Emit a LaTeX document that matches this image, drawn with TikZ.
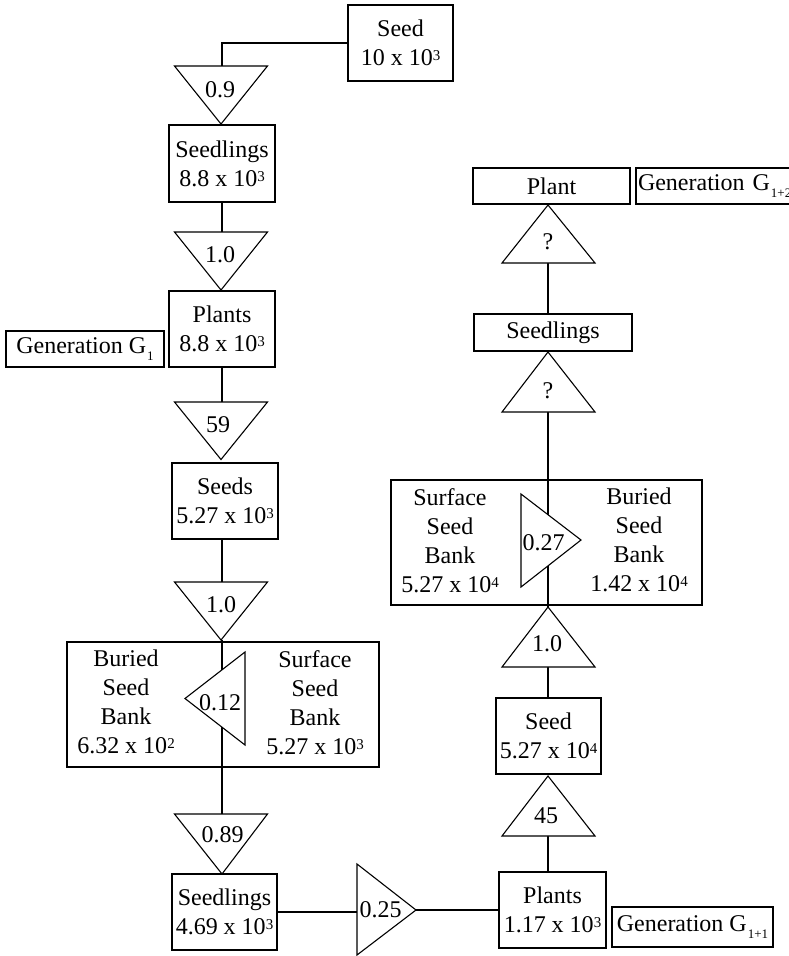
\documentclass[tikz,border=0pt]{standalone}
\usepackage{fontspec}
\setmainfont{Liberation Serif}
\newcommand{\sups}[1]{\raisebox{5pt}{\fontsize{15}{15}\selectfont #1}}
\newcommand{\subs}[1]{\kern1pt\raisebox{-6.5pt}{\fontsize{13}{13}\selectfont #1}}
\begin{document}
\begin{tikzpicture}[x=1pt,y=-1pt,line width=1.1pt,
  font=\fontsize{24}{29}\selectfont,
  box/.style={draw, inner sep=0pt, align=center},
  txt/.style={inner sep=0pt, align=center},
  lbl/.style={inner sep=0pt, anchor=base},
  tri/.style={draw, fill=white, line join=miter}]
\useasboundingbox (0,0) rectangle (789,956);
\clip (0,0) rectangle (789,956);

% boxes
\node[box,minimum width=105pt,minimum height=76pt] (seed) at (400.5,43) {Seed\\10 x 10\sups{3}};
\node[box,minimum width=106pt,minimum height=77pt] (sdl1) at (222,163.5) {Seedlings\\8.8 x 10\sups{3}};
\node[box,minimum width=106pt,minimum height=76pt] (pl1) at (222,329) {Plants\\8.8 x 10\sups{3}};
\node[box,minimum width=158pt,minimum height=36pt] (gen1) at (85,349) {Generation G\subs{1}};
\node[box,minimum width=106pt,minimum height=76pt] (seeds) at (225,501) {Seeds\\5.27 x 10\sups{3}};
\node[box,minimum width=312pt,minimum height=125pt] (bankL) at (223,704.5) {};
\node[box,minimum width=105pt,minimum height=76pt] (sdl2) at (224.5,912) {Seedlings\\4.69 x 10\sups{3}};
\node[box,minimum width=107pt,minimum height=76pt] (plR) at (552.5,910) {Plants\\1.17 x 10\sups{3}};
\node[box,minimum width=161pt,minimum height=40pt] (gen11) at (692.5,927) {Generation G\subs{1+1}};
\node[box,minimum width=105pt,minimum height=76pt] (seedR) at (548.5,736) {Seed\\5.27 x 10\sups{4}};
\node[box,minimum width=311pt,minimum height=125pt] (bankR) at (546.5,542.5) {};
\node[box,minimum width=158pt,minimum height=37pt] (sdlR) at (553,332.5) {Seedlings};
\node[box,minimum width=157pt,minimum height=36pt] (plant) at (551.5,186) {Plant};
\node[box,minimum width=170pt,minimum height=36pt,text width=166pt,align=left] (gen12) at (721,186) {Generation G\subs{1+2}};

% seed bank texts
\node[txt] (bLl) at (126,702.3) {Buried\\Seed\\Bank\\6.32 x 10\sups{2}};
\node[txt] (bLr) at (315,702.3) {Surface\\Seed\\Bank\\5.27 x 10\sups{3}};
\node[txt] (bRl) at (450,540.3) {Surface\\Seed\\Bank\\5.27 x 10\sups{4}};
\node[txt] (bRr) at (639,540.3) {Buried\\Seed\\Bank\\1.42 x 10\sups{4}};

% connector points on triangles
\coordinate (t1in) at (222,66);
\coordinate (t2in) at (222,232);
\coordinate (t3in) at (222,402);
\coordinate (t4in) at (222,582);
\coordinate (t4ap) at (222,640);
\coordinate (t6in) at (222,814);
\coordinate (t25in) at (357,912);
\coordinate (t25ap) at (416,910);
\coordinate (t45in) at (548,836);
\coordinate (t10in) at (548,667);
\coordinate (t10ap) at (548,607);
\coordinate (tq2in) at (548,412);
\coordinate (tq1in) at (548,263);

% connectors
\draw (seed.west) -| (t1in);
\draw (t2in |- sdl1.south) -- (t2in);
\draw (t3in |- pl1.south) -- (t3in);
\draw (t4in |- seeds.south) -- (t4in);
\draw (t4ap) -- (t6in);
\draw (sdl2.east |- t25in) -- (t25in);
\draw (t25ap) -- (plR.west |- t25ap);
\draw (t45in |- plR.north) -- (t45in);
\draw (t10in |- seedR.north) -- (t10in);
\draw (t10ap) -- (tq2in);
\draw (tq1in |- sdlR.north) -- (tq1in);

% triangles
\path[tri] (174.5,66) -- (267.5,66) -- (221,124) -- cycle;
\path[tri] (174.5,232) -- (267.5,232) -- (221,290) -- cycle;
\path[tri] (174.5,402) -- (267.5,402) -- (221,459.5) -- cycle;
\path[tri] (174.5,582) -- (267.5,582) -- (221,640) -- cycle;
\path[tri] (245,652) -- (245,745) -- (185,698.5) -- cycle;
\path[tri] (174.5,814) -- (267.5,814) -- (222,874) -- cycle;
\path[tri] (357,864) -- (357,955) -- (416,910) -- cycle;
\path[tri] (502,836) -- (595,836) -- (548,776) -- cycle;
\path[tri] (502,667) -- (595,667) -- (548,607) -- cycle;
\path[tri] (521,494) -- (521,587) -- (581,540) -- cycle;
\path[tri] (502,412) -- (595,412) -- (548,352) -- cycle;
\path[tri] (502,263) -- (595,263) -- (548,205) -- cycle;

% labels
\node[lbl] (l1) at (220,97) {0.9};
\node[lbl] (l2) at (220,262.7) {1.0};
\node[lbl] (l3) at (218,432) {59};
\node[lbl] (l4) at (221,612.7) {1.0};
\node[lbl] (l5) at (220,710) {0.12};
\node[lbl] (l6) at (222.5,842.7) {0.89};
\node[lbl] (l7) at (380.5,917) {0.25};
\node[lbl] (l8) at (546,823) {45};
\node[lbl] (l9) at (547,651.7) {1.0};
\node[lbl] (l10) at (543.5,550) {0.27};
\node[lbl] (l11) at (548,398) {?};
\node[lbl] (l12) at (548,249) {?};
\end{tikzpicture}
\end{document}
